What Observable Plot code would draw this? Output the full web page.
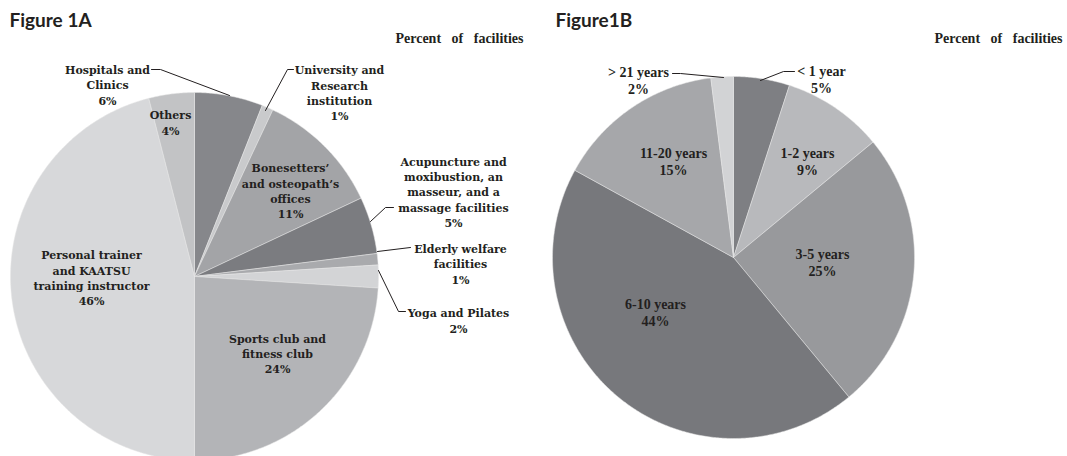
<!DOCTYPE html>
<html>
<head>
<meta charset="utf-8">
<script src="https://cdn.jsdelivr.net/npm/d3@7"></script>
<script src="https://cdn.jsdelivr.net/npm/@observablehq/plot@0.6"></script>
<style>
  html, body { margin: 0; padding: 0; background: #fff; }
  #wrap { display: flex; width: 1067px; height: 456px; overflow: hidden; }
  #wrap svg { overflow: hidden; }
</style>
</head>
<body>
<div id="wrap"><div id="a"></div><div id="b"></div></div>
<script>
// ---------------- DATA ----------------
const titleA = "Figure 1A";
const titleB = "Figure1B";
const unitLabel = "Percent of facilities";

const categoriesA = [
  "Hospitals and\nClinics", "University and\nResearch\ninstitution", "Bonesetters’\nand osteopath’s\noffices",
  "Acupuncture and\nmoxibustion, an\nmasseur, and a\nmassage facilities", "Elderly welfare\nfacilities",
  "Yoga and Pilates", "Sports club and\nfitness club", "Personal trainer\nand KAATSU\ntraining instructor", "Others"
];
const valuesA = [6, 1, 11, 5, 1, 2, 24, 46, 4];

const categoriesB = ["< 1 year", "1-2 years", "3-5 years", "6-10 years", "11-20 years", "> 21 years"];
const valuesB = [5, 9, 25, 44, 15, 2];

// ---------------- STYLE / LAYOUT ----------------
const colorsA = ["#86878b", "#c9cacc", "#a3a4a7", "#7b7c80", "#a9aaad", "#d3d4d6", "#b3b4b7", "#d7d8da", "#c2c3c5"];
const colorsB = ["#7e7f83", "#b8b9bc", "#98999c", "#77787c", "#a6a7aa", "#d2d3d5"];

// label block centre offsets from pie centre (px, y down)
const labelOffA = [[-87, -192], [145, -184], [96, -86], [259, -85], [266, -13], [264, 43.5], [83, 76.5], [-103, 1], [-24, -154.5]];
const leaderA = [
  [[-43, -207], [-34, -207], [35, -181]],
  [[99, -207], [93, -207], [71, -166]],
  null,
  [[199, -69], [191, -69], [176, -55]],
  [[216, -29], [183, -25]],
  [[211, 35], [204, 35], [184, -6]],
  null, null, null
];
const labelOffB = [[88, -178], [74, -96.5], [89, 5], [-78, 55], [-60, -96.5], [-95, -177]];
const leaderB = [
  [[61, -186], [50, -186], [27, -177]],
  null, null, null, null,
  [[-61, -184], [-53, -184], [-10, -180]]
];

function pieChart({width, height, cx, cy, R, cats, vals, colors, labelOff, leaders, title, font, fontSize, lineHeight, titleRightDx, titleDx}) {
  const arcs = d3.pie().sort(null).value(d => d)(vals);
  const slicePts = [];
  arcs.forEach((a, i) => {
    slicePts.push({key: i, x: 0, y: 0, c: colors[i]});
    const n = Math.max(2, Math.ceil((a.endAngle - a.startAngle) / (Math.PI / 360)));
    for (let k = 0; k <= n; k++) {
      const t = a.startAngle + (a.endAngle - a.startAngle) * k / n;
      slicePts.push({key: i, x: R * Math.sin(t), y: R * Math.cos(t), c: colors[i]});
    }
    slicePts.push({key: i, x: 0, y: 0, c: colors[i]});
  });
  const labels = cats.map((c, i) => ({
    text: c + "\n" + vals[i] + "%",
    x: labelOff[i][0], y: -labelOff[i][1]
  }));
  const leaderPts = [];
  leaders.forEach((l, i) => { if (l) l.forEach(p => leaderPts.push({id: i, x: p[0], y: -p[1]})); });

  const svg = Plot.plot({
    width, height, margin: 0,
    x: {domain: [-cx, width - cx], axis: null},
    y: {domain: [cy - height, cy], axis: null},
    color: {type: "identity"},
    marks: [
      Plot.line(slicePts, {x: "x", y: "y", z: "key", fill: "c", stroke: "#e6e6e6", strokeWidth: 0.5, curve: "linear"}),
      Plot.line(leaderPts, {x: "x", y: "y", z: "id", stroke: "#231f20", strokeWidth: 1}),
      Plot.text(labels, {x: "x", y: "y", text: "text", fontFamily: font, fontSize, fontWeight: "bold", fill: "#231f20", lineHeight, lineAnchor: "middle"}),
      Plot.text([title], {frameAnchor: "top-left", dx: titleDx, dy: 13, lineAnchor: "top", textAnchor: "start", fontFamily: "Lato", fontWeight: "bold", fontSize: 19, fill: "#231f20"}),
      Plot.text([unitLabel], {frameAnchor: "top-right", dx: titleRightDx, dy: 38, lineAnchor: "middle", textAnchor: "end", fontFamily: "Liberation Serif", fontWeight: "bold", fontSize: 14, fill: "#231f20"})
    ]
  });
  svg.querySelectorAll("text").forEach(t => { if (t.textContent === unitLabel) t.style.wordSpacing = "7px"; });
  return svg;
}

document.getElementById("a").appendChild(pieChart({
  width: 533, height: 456, cx: 194, cy: 276, R: 184,
  cats: categoriesA, vals: valuesA, colors: colorsA, labelOff: labelOffA, leaders: leaderA,
  title: titleA, font: "DejaVu Serif", fontSize: 11, lineHeight: 1.39, titleRightDx: -10, titleDx: 9
}));
document.getElementById("b").appendChild(pieChart({
  width: 534, height: 456, cx: 200, cy: 257, R: 181,
  cats: categoriesB, vals: valuesB, colors: colorsB, labelOff: labelOffB, leaders: leaderB,
  title: titleB, font: "Liberation Serif", fontSize: 14, lineHeight: 1.2, titleRightDx: -5, titleDx: 22
}));
</script>
</body>
</html>
